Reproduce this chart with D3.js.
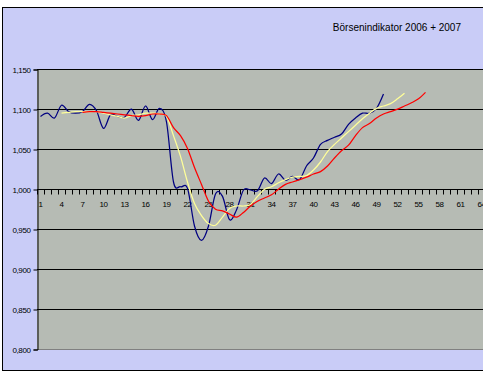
<!DOCTYPE html>
<html>
<head>
<meta charset="utf-8">
<script src="https://cdn.jsdelivr.net/npm/d3@7"></script>
<style>
  body { margin: 0; background: #fff; }
  text { font-family: "Liberation Sans", Arial, sans-serif; }
</style>
</head>
<body>
<svg width="483" height="374"></svg>
<script>
var title = "Börsenindikator 2006 + 2007";

var categories = d3.range(1, 67);
var yTicks = [0.80, 0.85, 0.90, 0.95, 1.00, 1.05, 1.10, 1.15];

// index (Börse), start category 1
var indexStart = 1;
var indexValues = [1.092, 1.096, 1.090, 1.106, 1.098, 1.096, 1.098, 1.107, 1.099, 1.077,
                   1.094, 1.092, 1.091, 1.101, 1.087, 1.105, 1.088, 1.102, 1.085, 1.010,
                   1.004, 1.002, 0.955, 0.937, 0.955, 0.995, 0.992, 0.963, 0.975, 1.000,
                   1.000, 0.999, 1.015, 1.008, 1.020, 1.012, 1.017, 1.013, 1.030, 1.040,
                   1.057, 1.062, 1.066, 1.070, 1.082, 1.090, 1.096, 1.096, 1.102, 1.120];

// short average, start category 4
var shortStart = 4;
var shortValues = [1.096, 1.097, 1.098, 1.098, 1.098, 1.098, 1.096, 1.094, 1.092, 1.090,
                   1.093, 1.094, 1.096, 1.096, 1.095, 1.092, 1.068, 1.042, 1.010, 0.983,
                   0.968, 0.958, 0.956, 0.966, 0.977, 0.980, 0.980, 0.982, 0.992, 1.001,
                   1.004, 1.009, 1.013, 1.016, 1.017, 1.018, 1.025, 1.035, 1.048, 1.057,
                   1.065, 1.073, 1.081, 1.089, 1.096, 1.102, 1.105, 1.108, 1.114, 1.121];

// long average, start category 7
var longStart = 7;
var longValues = [1.097, 1.098, 1.098, 1.097, 1.096, 1.095, 1.094, 1.093, 1.092, 1.093,
                  1.095, 1.095, 1.093, 1.078, 1.068, 1.052, 1.028, 1.007, 0.986, 0.976,
                  0.974, 0.970, 0.966, 0.972, 0.980, 0.986, 0.990, 0.994, 1.001, 1.007,
                  1.010, 1.013, 1.016, 1.020, 1.023, 1.030, 1.040, 1.049, 1.056, 1.068,
                  1.078, 1.083, 1.090, 1.095, 1.098, 1.101, 1.105, 1.109, 1.114, 1.122];

var series = [
  {start: indexStart, values: indexValues, color: "#000080"},
  {start: shortStart, values: shortValues, color: "#FFFF99"},
  {start: longStart,  values: longValues,  color: "#FF0000"}
];

var svg = d3.select("svg");

// chart area
svg.append("rect")
    .attr("x", 2.5).attr("y", 7.5)
    .attr("width", 520).attr("height", 363)
    .attr("fill", "#C9CCF7")
    .attr("stroke", "#000");

svg.append("text")
    .attr("x", 461).attr("y", 31)
    .attr("text-anchor", "end")
    .style("font-size", "10px")
    .text(title);

var x = d3.scaleBand()
    .domain(categories)
    .range([37, 37 + categories.length * 7]);

var y = d3.scaleLinear()
    .domain([0.80, 1.15])
    .range([350, 70]);

// plot area
svg.append("rect")
    .attr("x", x.range()[0]).attr("y", y(1.15))
    .attr("width", x.range()[1] - x.range()[0])
    .attr("height", y(0.80) - y(1.15))
    .attr("fill", "#B6BBB4");

svg.append("g")
  .selectAll("line")
    .data(yTicks)
  .enter().append("line")
    .attr("x1", x.range()[0]).attr("x2", x.range()[1])
    .attr("y1", function(d) { return Math.round(y(d)) - 0.5; })
    .attr("y2", function(d) { return Math.round(y(d)) - 0.5; })
    .attr("stroke", function(d) { return d === 0.80 ? "#808080" : "#000"; });

var fmt = d3.format(".3f");
svg.append("g")
    .attr("transform", "translate(" + (x.range()[0] + 0.5) + ",-0.5)")
    .call(d3.axisLeft(y).tickValues(yTicks).tickSize(4).tickPadding(3)
      .tickFormat(function(d) { return fmt(d).replace(".", ","); }))
    .call(function(g) {
      g.select(".domain").attr("stroke", "#000");
      g.selectAll("text").style("font-size", "8px").style("letter-spacing", "-0.4px")
        .attr("font-family", null);
    });

// category axis crossing at 1,000
var xAxis = svg.append("g")
    .attr("transform", "translate(0," + (Math.round(y(1.0)) - 0.5) + ")");
xAxis.selectAll("line")
    .data(categories.concat([categories.length + 1]))
  .enter().append("line")
    .attr("x1", function(d) { return Math.round(x.range()[0] + (d - 1) * x.step()) + 0.5; })
    .attr("x2", function(d) { return Math.round(x.range()[0] + (d - 1) * x.step()) + 0.5; })
    .attr("y1", 0).attr("y2", 5)
    .attr("stroke", "#000");
xAxis.selectAll("text")
    .data(categories.filter(function(d) { return (d - 1) % 3 === 0; }))
  .enter().append("text")
    .attr("x", function(d) { return x(d) + x.bandwidth() / 2; })
    .attr("y", 17)
    .attr("text-anchor", "middle")
    .style("font-size", "8px")
    .style("letter-spacing", "-0.4px")
    .text(function(d) { return d; });

var line = d3.line()
    .x(function(d) { return x(d.cat) + x.bandwidth() / 2; })
    .y(function(d) { return y(d.value); })
    .curve(d3.curveCardinal.tension(0));

svg.append("g")
  .selectAll("path")
    .data(series)
  .enter().append("path")
    .attr("d", function(s) {
      return line(s.values.map(function(v, i) { return {cat: s.start + i, value: v}; }));
    })
    .attr("fill", "none")
    .attr("stroke", function(s) { return s.color; })
    .attr("stroke-width", 1.25);
</script>
</body>
</html>
